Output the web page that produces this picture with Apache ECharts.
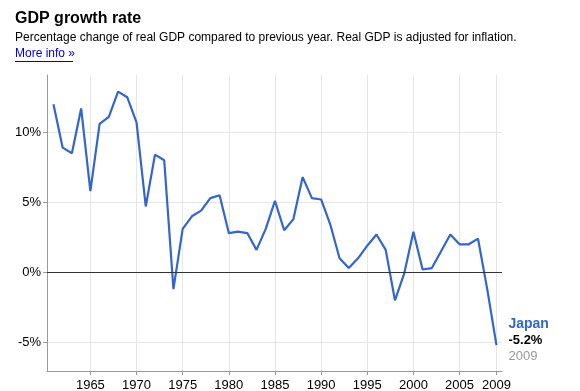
<!DOCTYPE html>
<html>
<head>
<meta charset="utf-8">
<script src="https://cdn.jsdelivr.net/npm/echarts@6/dist/echarts.min.js"></script>
<style>
html,body{margin:0;padding:0;background:#fff;}
#chart{width:580px;height:391px;}
</style>
</head>
<body>
<div id="chart"></div>
<script>
var years = [1961,1962,1963,1964,1965,1966,1967,1968,1969,1970,1971,1972,1973,1974,1975,1976,1977,1978,1979,1980,1981,1982,1983,1984,1985,1986,1987,1988,1989,1990,1991,1992,1993,1994,1995,1996,1997,1998,1999,2000,2001,2002,2003,2004,2005,2006,2007,2008,2009];
var growth = [12.0,8.9,8.5,11.7,5.8,10.6,11.1,12.9,12.5,10.7,4.7,8.4,8.0,-1.2,3.1,4.0,4.4,5.3,5.5,2.8,2.9,2.8,1.6,3.1,5.1,3.0,3.8,6.8,5.3,5.2,3.4,1.0,0.3,1.0,1.9,2.7,1.6,-2.0,-0.1,2.9,0.2,0.3,1.5,2.7,2.0,2.0,2.4,-1.2,-5.2];
var xTicks = [1965,1970,1975,1980,1985,1990,1995,2000,2005,2009];
var yTicks = [-5,0,5,10];
var seriesName = 'Japan';

var FONT = '"Liberation Sans", Arial, sans-serif';
var data = years.map(function(y,i){ return [y, growth[i]]; });

var chart = echarts.init(document.getElementById('chart'), null, {renderer:'canvas'});
chart.setOption({
  animation: false,
  textStyle: {fontFamily: FONT},
  grid: {left: 47, top: 75, right: 78, bottom: 20, containLabel: false, outerBoundsMode: 'none'},
  graphic: [
    {type:'text', left: 15, top: 11, style:{text:'GDP growth rate', font:'bold 16px ' + FONT, fill:'#000'}},
    {type:'text', left: 15, top: 32, style:{text:'Percentage change of real GDP compared to previous year. Real GDP is adjusted for inflation.', font:'12px ' + FONT, fill:'#000'}},
    {type:'text', left: 15, top: 48, style:{text:'More info \u00bb', font:'12px ' + FONT, fill:'#0000cc'}},
    {type:'line', shape:{x1:15, y1:61.5, x2:73, y2:61.5}, style:{stroke:'#0000cc', lineWidth:1}}
  ],
  xAxis: {
    type: 'value',
    min: 1960.3,
    max: 2009.6,
    axisLine: {show: true, onZero: false, lineStyle: {color: '#999', width: 1}},
    axisTick: {show: true, length: 4, lineStyle: {color: '#999'}, customValues: xTicks},
    axisLabel: {customValues: xTicks, color: '#000', fontSize: 13, fontFamily: FONT, margin: 8, formatter: function(v){ return String(v); }},
    splitLine: {show: true, lineStyle: {color: '#e6e6e6', width: 1}}
  },
  yAxis: {
    type: 'value',
    min: -7.05,
    max: 14.09,
    axisLine: {show: true, lineStyle: {color: '#999', width: 1}},
    axisTick: {show: true, length: 4, lineStyle: {color: '#999'}, customValues: yTicks},
    axisLabel: {customValues: yTicks, color: '#000', fontSize: 13, fontFamily: FONT, margin: 6, formatter: function(v){ return v + '%'; }},
    splitLine: {show: true, lineStyle: {color: '#e6e6e6', width: 1}}
  },
  series: [{
    type: 'line',
    name: seriesName,
    data: data,
    symbol: 'none',
    lineStyle: {color: '#3366cc', width: 2.2},
    itemStyle: {color: '#3366cc'},
    markLine: {
      silent: true,
      symbol: 'none',
      label: {show: false},
      lineStyle: {color: '#333', width: 1, type: 'solid'},
      data: [{yAxis: 0}]
    },
    endLabel: {
      show: true,
      distance: 12,
      offset: [0, -5],
      formatter: function(p){
        return '{a|' + seriesName + '}\n{b|' + p.value[1].toFixed(1) + '%}\n{c|' + p.value[0] + '}';
      },
      rich: {
        a: {fontSize: 14, fontWeight: 'bold', color: '#3366cc', fontFamily: FONT, lineHeight: 16},
        b: {fontSize: 13, fontWeight: 'bold', color: '#000', fontFamily: FONT, lineHeight: 16},
        c: {fontSize: 13, color: '#999', fontFamily: FONT, lineHeight: 15}
      }
    }
  }]
});
</script>
</body>
</html>
